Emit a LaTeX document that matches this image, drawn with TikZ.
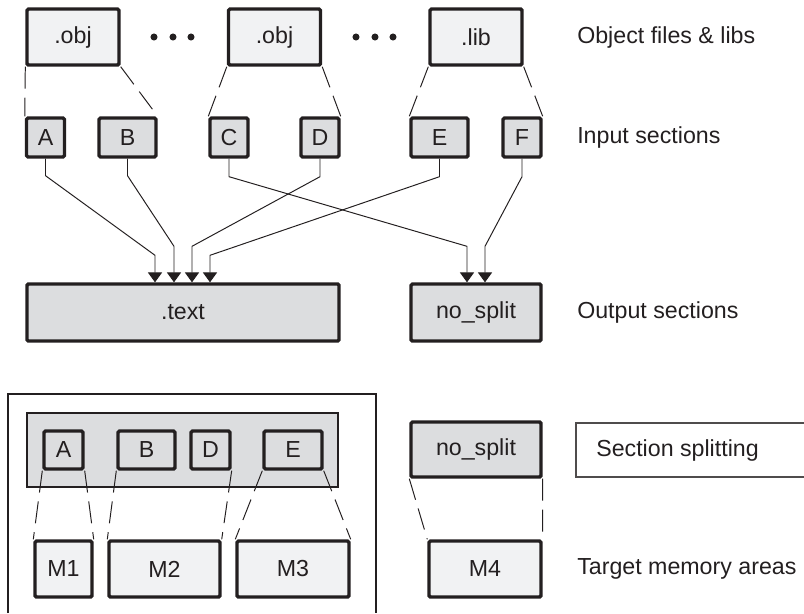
\documentclass[tikz,border=0pt]{standalone}
\usepackage{fontspec}
\setmainfont{Liberation Sans}
\usetikzlibrary{calc,arrows.meta,positioning}

\definecolor{ink}{HTML}{231F20}
\definecolor{pale}{HTML}{F1F2F3}
\definecolor{mid}{HTML}{DCDDDF}

\tikzset{
  box/.style={draw=ink, line width=2.4pt, rounded corners=1pt, inner sep=0pt, minimum height=1.4cm, text=ink},
  filebox/.style={box, fill=pale, minimum width=2.3cm},
  secbox/.style={box, fill=mid, minimum height=0.975cm},
  membox/.style={box, fill=pale},
  link/.style={draw=ink, line width=0.7pt, dash pattern=on 0.55cm off 0.225cm},
  flow/.style={draw=ink, line width=0.7pt, -{Triangle[width=10pt,length=7pt]}},
  lbl/.style={anchor=west, inner sep=0pt, text=ink}
}

\begin{document}
\begin{tikzpicture}[x=0.025cm, y=-0.025cm, font=\fontsize{16.5}{20}\selectfont]
  \useasboundingbox (0,0) rectangle (804,613);

  \node[filebox] (obj1) at (73,37) {.obj};
  \node[filebox] (obj2) at (274.5,37) {.obj};
  \node[filebox] (lib) at (476,37) {.lib};
  \foreach \x in {154,173,191,356,375,393}
  {
  \fill[ink] (\x,37) circle (2.5pt);
  }

  \node[secbox, minimum width=0.95cm] (seca) at (45.5,137.5) {A};
  \node[secbox, minimum width=1.425cm] (secb) at (127.5,137.5) {B};
  \node[secbox, minimum width=0.95cm] (secc) at (229,137.5) {C};
  \node[secbox, minimum width=0.95cm] (secd) at (320,137.5) {D};
  \node[secbox, minimum width=1.425cm] (sece) at (439.5,137.5) {E};
  \node[secbox, minimum width=0.95cm] (secf) at (522,137.5) {F};

  \draw[link] (obj1.south west) -- (seca.north west);
  \draw[link] (obj1.south east) -- (secb.north east);
  \draw[link] (obj2.south west) -- (secc.north west);
  \draw[link] (obj2.south east) -- (secd.north east);
  \draw[link] (lib.south west) -- (sece.north west);
  \draw[link] (lib.south east) -- (secf.north east);

  \node[secbox, minimum width=7.8cm, minimum height=1.425cm] (textsec) at (183,312.5) {.text};
  \node[secbox, minimum width=3.25cm, minimum height=1.425cm] (nosplit) at (476,312.5) {no\_split};

  \coordinate (ta) at ($(textsec.north)+(-28,0)$);
  \coordinate (tb) at ($(textsec.north)+(-9,0)$);
  \coordinate (td) at ($(textsec.north)+(9,0)$);
  \coordinate (te) at ($(textsec.north)+(27,0)$);
  \coordinate (nc) at ($(nosplit.north)+(-9,0)$);
  \coordinate (nf) at ($(nosplit.north)+(9,0)$);

  \draw[flow] (seca.south) -- ++(0,17) -- ($(ta)+(0,-27)$) -- (ta);
  \draw[flow] (secb.south) -- ++(0,17) -- ($(tb)+(0,-36)$) -- (tb);
  \draw[flow] (secd.south) -- ++(0,18) -- ($(td)+(0,-36)$) -- (td);
  \draw[flow] (sece.south) -- ++(0,18) -- ($(te)+(0,-27)$) -- (te);
  \draw[flow] (secc.south) -- ++(0,18) -- ($(nc)+(0,-36)$) -- (nc);
  \draw[flow] (secf.south) -- ++(0,18) -- ($(nf)+(0,-36)$) -- (nf);

  \draw[ink, line width=1.2pt] (8,613) -- (8,394) -- (376,394) -- (376,613);
  \draw[ink, line width=0.8pt, fill=mid] (27,413) rectangle (338,487);

  \node[secbox, minimum width=0.975cm, minimum height=0.95cm] (ia) at (63.5,450) {A};
  \node[secbox, minimum width=1.425cm, minimum height=0.95cm] (ib) at (146.5,450) {B};
  \node[secbox, minimum width=0.975cm, minimum height=0.95cm] (id) at (210.5,450) {D};
  \node[secbox, minimum width=1.45cm, minimum height=0.95cm] (ie) at (293,450) {E};
  \node[secbox, minimum width=3.25cm, minimum height=1.375cm] (nosplitb) at (476,449.5) {no\_split};

  \node[membox, minimum width=1.425cm] (m1) at (63.5,569) {M1};
  \node[membox, minimum width=2.775cm] (m2) at (164.5,569) {M2};
  \node[membox, minimum width=2.8cm] (m3) at (293,569) {M3};
  \node[membox, minimum width=2.8cm] (m4) at (485,569) {M4};

  \draw[link] (ia.south west) -- (m1.north west);
  \draw[link] (ia.south east) -- (m1.north east);
  \draw[link] (ib.south west) -- (m2.north west);
  \draw[link] (id.south east) -- (m2.north east);
  \draw[link] (ie.south west) -- (m3.north west);
  \draw[link] (ie.south east) -- (m3.north east);
  \draw[link] (nosplitb.south west) -- (m4.north west);
  \draw[link] (nosplitb.south east) -- (m4.north east);

  \draw[ink!80, line width=0.8pt] (804,423) -- (576,423) -- (576,477) -- (804,477);
  \node[lbl] (lsplit) at (596,450) {Section splitting};

  \node[lbl] (lobj) at (577,37) {Object files \& libs};
  \node[lbl] (linp) at (577,137) {Input sections};
  \node[lbl] (lout) at (577,312) {Output sections};
  \node[lbl] (lmem) at (577,569) {Target memory areas};

\end{tikzpicture}
\end{document}
